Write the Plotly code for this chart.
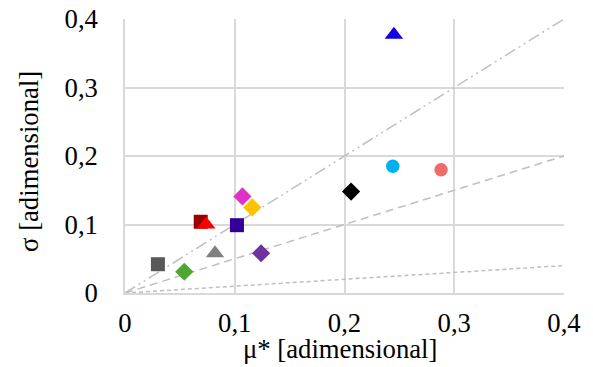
import plotly.graph_objects as go

# Data points (mu*, sigma)
mu_star = [0.030, 0.054, 0.082, 0.069, 0.074, 0.102, 0.107, 0.116, 0.124, 0.206, 0.244, 0.288, 0.245]
sigma = [0.042, 0.031, 0.058, 0.104, 0.100, 0.099, 0.141, 0.125, 0.058, 0.148, 0.185, 0.180, 0.377]
symbols = ["square", "diamond", "triangle-up", "square", "triangle-up", "square", "diamond",
           "diamond", "diamond", "diamond", "circle", "circle", "triangle-up"]
colors = ["#595959", "#4EA72E", "#808080", "#990000", "#FF0000", "#330099", "#E030C8",
          "#FFC000", "#7030A0", "#000000", "#00B0F0", "#F26B6B", "#1400E6"]

# Reference lines sigma/mu* ratios
ref_x = [0, 0.4]
ref_ratios = [1.0, 0.5, 0.1]
ref_dash = ["12px,4px,2px,4px,2px,4px", "8px,5px", "4px,3px"]
ref_colors = ["#BFBFBF", "#BFBFBF", "#BFBFBF"]

tick_vals = [0, 0.1, 0.2, 0.3, 0.4]
tick_text = ["0", "0,1", "0,2", "0,3", "0,4"]
x_title = "μ* [adimensional]"
y_title = "σ [adimensional]"

marker_sizes = {"square": 14, "diamond": 14, "triangle-up": 16, "circle": 13.5}

fig = go.Figure()
for r, d, c in zip(ref_ratios, ref_dash, ref_colors):
    fig.add_trace(go.Scatter(x=ref_x, y=[r * v for v in ref_x], mode="lines",
                             line=dict(color=c, width=1.5, dash=d), showlegend=False,
                             hoverinfo="skip"))

for x, y, s, c in zip(mu_star, sigma, symbols, colors):
    fig.add_trace(go.Scatter(x=[x], y=[y], mode="markers",
                             marker=dict(symbol=s, color=c, size=marker_sizes[s], line=dict(width=0)),
                             showlegend=False))

font = dict(family="Liberation Serif", size=26.7, color="#000000")

fig.update_layout(
    width=593, height=367,
    margin=dict(l=125, r=29, t=19, b=74),
    paper_bgcolor="white", plot_bgcolor="white",
    font=font,
    xaxis=dict(range=[0, 0.4], tickvals=tick_vals, ticktext=tick_text, tickfont=font,
               showgrid=True, gridcolor="#D9D9D9", gridwidth=1.5,
               showline=True, linecolor="#D9D9D9", linewidth=1.5, mirror=False,
               zeroline=False, ticks="", ticklabelstandoff=5, automargin=False),
    yaxis=dict(range=[0, 0.4], tickvals=tick_vals, ticktext=tick_text, tickfont=font,
               showgrid=True, gridcolor="#D9D9D9", gridwidth=1.5,
               showline=True, linecolor="#D9D9D9", linewidth=1.5,
               zeroline=False, ticks="", ticklabelstandoff=20, automargin=False),
)

fig.add_annotation(text=x_title, xref="paper", yref="paper", x=0.49, y=-0.205,
                   xanchor="center", yanchor="middle", showarrow=False, font=font)
fig.add_annotation(text=y_title, xref="paper", yref="paper", x=-0.2187, y=0.482,
                   xanchor="center", yanchor="middle", showarrow=False, font=font,
                   textangle=-90)

fig.write_html("out.html", config={"displayModeBar": False},
               post_script="document.body.style.margin='0';")
